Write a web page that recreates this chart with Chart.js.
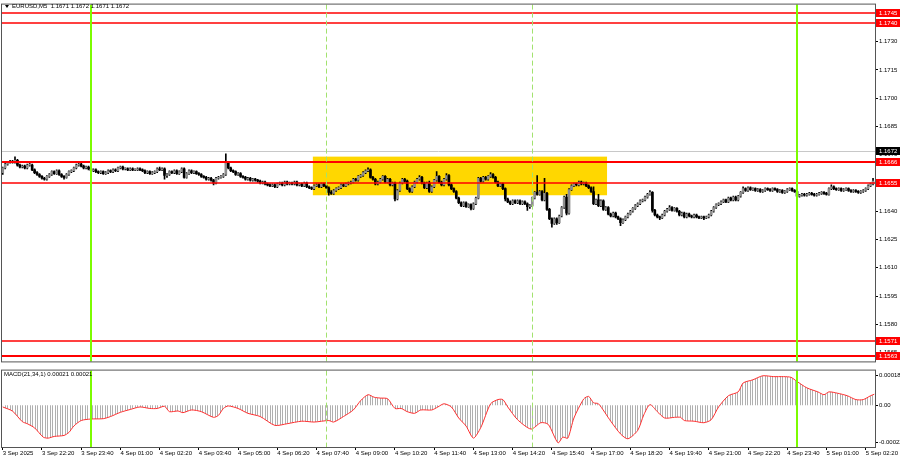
<!DOCTYPE html>
<html>
<head>
<meta charset="utf-8">
<script src="https://cdn.jsdelivr.net/npm/chart.js@4.4.1/dist/chart.umd.min.js"></script>
<style>
  html, body { margin: 0; padding: 0; background: #fff; }
  #wrap { position: relative; width: 900px; height: 460px; }
  canvas { position: absolute; left: 0; }
  #price { top: 0; }
  #macd { top: 366px; }
</style>
</head>
<body>
<div id="wrap">
  <canvas id="price" width="900" height="366"></canvas>
  <canvas id="macd" width="900" height="94"></canvas>
</div>
<script>
// EURUSD M5, one entry per 5 minute bar, 3 Sep 21:00 .. 5 Sep 02:35
var barOpen = [
1.16605,1.1663,1.1665,1.1666,1.16665,1.1666,1.1667,1.16645,1.16635,1.1664,
1.1663,1.16645,1.16645,1.1662,1.16605,1.16595,1.16585,1.16575,1.1657,1.16585,
1.16595,1.1661,1.166,1.16615,1.16595,1.16585,1.1658,1.16595,1.1661,1.16615,
1.1663,1.16645,1.1665,1.1664,1.1663,1.16635,1.16625,1.16615,1.1662,1.1661,
1.16605,1.1661,1.166,1.16605,1.16615,1.1661,1.1662,1.16615,1.1663,1.16635,
1.16625,1.16625,1.1662,1.16625,1.1662,1.1662,1.16625,1.1662,1.16615,1.16605,
1.1661,1.166,1.16605,1.1661,1.16625,1.1662,1.16625,1.1659,1.16595,1.1661,
1.16605,1.16615,1.166,1.1661,1.16625,1.1658,1.166,1.16615,1.16605,1.1661,
1.166,1.16595,1.16585,1.1658,1.1657,1.16575,1.16565,1.1655,1.16575,1.1658,
1.16585,1.16595,1.1666,1.1663,1.16615,1.1661,1.16595,1.166,1.16585,1.1658,
1.1657,1.16575,1.16565,1.1657,1.16565,1.1656,1.1655,1.16555,1.16545,1.1654,
1.16535,1.1654,1.1653,1.16545,1.1655,1.1654,1.16555,1.16545,1.1655,1.16545,
1.16555,1.1654,1.16545,1.16535,1.1655,1.1653,1.16525,1.1652,1.16535,1.1654,
1.1653,1.16545,1.16535,1.16525,1.165,1.16495,1.1651,1.1652,1.16525,1.1654,
1.16535,1.16545,1.1655,1.16555,1.1657,1.16565,1.16585,1.1659,1.16605,1.16615,
1.1662,1.1658,1.1657,1.16545,1.16555,1.1657,1.16585,1.16555,1.1657,1.1654,
1.1655,1.16465,1.1651,1.1655,1.1657,1.1656,1.1652,1.16505,1.1653,1.16555,
1.1657,1.1658,1.1655,1.16525,1.1655,1.16505,1.1653,1.16565,1.16585,1.16555,
1.1654,1.1657,1.1659,1.1654,1.1652,1.16505,1.1647,1.16445,1.1643,1.16445,
1.16425,1.16435,1.16415,1.1644,1.1647,1.16575,1.1656,1.1658,1.1657,1.16585,
1.16595,1.1658,1.16555,1.16535,1.16545,1.1652,1.16465,1.1645,1.1644,1.16455,
1.16445,1.16455,1.1644,1.1645,1.1644,1.16425,1.1643,1.1647,1.165,1.1649,
1.16505,1.1646,1.16495,1.1641,1.1636,1.16335,1.1636,1.1634,1.16375,1.1642,
1.16475,1.1639,1.16515,1.16535,1.16545,1.1654,1.16555,1.16545,1.1655,1.16535,
1.16525,1.16505,1.1644,1.1646,1.1643,1.16455,1.1641,1.1642,1.16385,1.16375,
1.1639,1.1637,1.1636,1.1634,1.16355,1.1637,1.16385,1.164,1.16415,1.1643,
1.1644,1.16455,1.1646,1.16475,1.1649,1.165,1.16405,1.1638,1.1637,1.16365,
1.1638,1.164,1.1641,1.1642,1.16405,1.16415,1.164,1.1638,1.1639,1.1637,
1.16385,1.16375,1.1637,1.1638,1.1637,1.16365,1.1637,1.16365,1.1637,1.1638,
1.164,1.1642,1.16435,1.1644,1.1645,1.1646,1.1645,1.1647,1.1646,1.16475,
1.1646,1.1648,1.165,1.1652,1.1651,1.16525,1.16515,1.1652,1.1651,1.16515,
1.16505,1.1651,1.1652,1.16515,1.1651,1.1652,1.16515,1.16505,1.1651,1.165,
1.16505,1.16515,1.1652,1.1651,1.16505,1.1648,1.16485,1.1649,1.16485,1.1649,
1.16495,1.1649,1.16485,1.1649,1.16495,1.165,1.16495,1.1649,1.1652,1.1653,
1.1652,1.16515,1.1652,1.1651,1.16515,1.1652,1.1651,1.16505,1.1651,1.16505,
1.165,1.16505,1.1651,1.1652,1.16535,1.16545
];
var barHigh = [
1.16635,1.16655,1.16665,1.1667,1.1667,1.16689,1.16675,1.1665,1.16645,1.16645,
1.1665,1.16655,1.1665,1.16625,1.1661,1.166,1.1659,1.1658,1.1659,1.166,
1.16615,1.16615,1.1662,1.1662,1.166,1.1659,1.166,1.16615,1.1662,1.16635,
1.1665,1.16655,1.16655,1.16645,1.1664,1.1664,1.1663,1.16625,1.16625,1.16615,
1.16615,1.16615,1.1661,1.1662,1.1662,1.16625,1.16625,1.16635,1.1664,1.1664,
1.1663,1.1663,1.1663,1.1663,1.16625,1.1663,1.1663,1.16625,1.1662,1.16615,
1.16615,1.1661,1.16615,1.1663,1.16635,1.1663,1.1663,1.166,1.16615,1.16615,
1.1662,1.1662,1.16615,1.1663,1.1663,1.16605,1.1662,1.1662,1.16615,1.16615,
1.16605,1.166,1.1659,1.16585,1.1658,1.1658,1.1657,1.1658,1.16585,1.1659,
1.166,1.16705,1.16665,1.16635,1.1662,1.16615,1.16605,1.16605,1.1659,1.16585,
1.1658,1.1658,1.16575,1.16575,1.1657,1.16565,1.1656,1.1656,1.1655,1.16545,
1.16545,1.16545,1.1655,1.16555,1.16555,1.1656,1.1656,1.16555,1.16555,1.1656,
1.1656,1.1655,1.1655,1.16555,1.16555,1.16535,1.1653,1.1654,1.16545,1.16545,
1.1655,1.1655,1.1654,1.1653,1.1651,1.16515,1.16525,1.1653,1.16545,1.16545,
1.1655,1.16555,1.1656,1.16575,1.16575,1.1659,1.16595,1.1661,1.1662,1.1663,
1.16625,1.16585,1.16575,1.1656,1.16575,1.1659,1.1659,1.16575,1.16575,1.16555,
1.16555,1.16515,1.16555,1.16575,1.16575,1.16565,1.16525,1.16535,1.1656,1.16575,
1.1659,1.16585,1.16555,1.16555,1.1656,1.16535,1.1657,1.1661,1.1659,1.1656,
1.16575,1.166,1.16595,1.16545,1.16525,1.1651,1.16475,1.1645,1.1645,1.1645,
1.1644,1.1644,1.16445,1.16475,1.1658,1.1658,1.16585,1.16585,1.1659,1.16605,
1.166,1.16585,1.1656,1.1655,1.1655,1.16525,1.1647,1.16455,1.1646,1.1646,
1.1646,1.1646,1.16455,1.16455,1.16445,1.16435,1.16475,1.16505,1.1659,1.1651,
1.1651,1.16575,1.165,1.16415,1.16365,1.16365,1.16365,1.1638,1.16425,1.1648,
1.1649,1.1652,1.1654,1.1655,1.1655,1.1656,1.1656,1.16555,1.16555,1.1654,
1.1653,1.1653,1.16465,1.1649,1.1646,1.1646,1.16425,1.16425,1.1639,1.16395,
1.16395,1.16375,1.16365,1.1636,1.16375,1.1639,1.16405,1.1642,1.16435,1.16445,
1.1646,1.16465,1.1648,1.16495,1.1651,1.16505,1.1641,1.16385,1.16375,1.16385,
1.16405,1.16415,1.1643,1.16425,1.1642,1.1642,1.16405,1.16395,1.16395,1.1639,
1.1639,1.1638,1.16385,1.16385,1.16375,1.16375,1.16375,1.16375,1.16385,1.16405,
1.16425,1.1644,1.16445,1.16455,1.16465,1.16465,1.16475,1.16475,1.1648,1.1648,
1.16485,1.16505,1.1653,1.16525,1.1653,1.1653,1.16525,1.16525,1.1652,1.1652,
1.16515,1.16525,1.16525,1.1652,1.16525,1.16525,1.1652,1.16515,1.16515,1.1651,
1.1652,1.16525,1.16525,1.16515,1.1651,1.1649,1.16495,1.16495,1.16495,1.165,
1.165,1.16495,1.16495,1.165,1.16505,1.16505,1.165,1.16525,1.1654,1.16535,
1.16525,1.16525,1.16525,1.1652,1.16525,1.16525,1.16515,1.16515,1.16515,1.1651,
1.1651,1.16515,1.16525,1.1654,1.1655,1.16575
];
var barLow = [
1.16595,1.16625,1.16645,1.16655,1.16655,1.16655,1.1664,1.1663,1.1663,1.16625,
1.16625,1.1664,1.16615,1.166,1.1659,1.1658,1.1657,1.16565,1.16565,1.1658,
1.1659,1.16595,1.16595,1.1659,1.1658,1.1657,1.16575,1.1659,1.16605,1.1661,
1.16625,1.1664,1.16635,1.16625,1.16625,1.1662,1.1661,1.1661,1.16605,1.166,
1.166,1.16595,1.16595,1.166,1.16605,1.16605,1.1661,1.1661,1.16625,1.1662,
1.1662,1.16615,1.16615,1.16615,1.16615,1.16615,1.16615,1.1661,1.166,1.166,
1.16595,1.16595,1.166,1.16605,1.16615,1.16615,1.1657,1.1658,1.1659,1.166,
1.166,1.16595,1.16595,1.16605,1.16575,1.16575,1.16595,1.166,1.166,1.16595,
1.1659,1.1658,1.16575,1.16565,1.16565,1.1656,1.1654,1.16545,1.1657,1.16575,
1.1658,1.1659,1.16625,1.1661,1.16605,1.1659,1.1659,1.1658,1.16575,1.16565,
1.16565,1.1656,1.1656,1.1656,1.16555,1.16545,1.16545,1.1654,1.16535,1.1653,
1.1653,1.16525,1.16525,1.1654,1.16535,1.16535,1.1654,1.1654,1.1654,1.1654,
1.16535,1.16535,1.1653,1.1653,1.16525,1.1652,1.16515,1.16515,1.1653,1.16525,
1.16525,1.1653,1.1652,1.16485,1.1649,1.1649,1.16505,1.16515,1.1652,1.1653,
1.1653,1.1654,1.16545,1.1655,1.1656,1.1656,1.1658,1.16585,1.166,1.1661,
1.16575,1.16565,1.1654,1.1654,1.1655,1.16565,1.1655,1.1655,1.16535,1.16535,
1.16455,1.1646,1.16505,1.16545,1.16555,1.16515,1.165,1.165,1.16525,1.1655,
1.16565,1.16545,1.1652,1.1652,1.165,1.165,1.16525,1.1656,1.1655,1.16535,
1.16535,1.16565,1.16535,1.16515,1.165,1.16465,1.1644,1.16425,1.16425,1.1642,
1.1642,1.16407,1.1641,1.16435,1.16465,1.16555,1.16555,1.16565,1.16565,1.1658,
1.16575,1.1655,1.1653,1.1653,1.16515,1.16455,1.16445,1.16435,1.16435,1.1644,
1.1644,1.16435,1.16435,1.16435,1.16405,1.16415,1.16425,1.16465,1.16485,1.16485,
1.16455,1.16455,1.16405,1.16355,1.16315,1.1633,1.1633,1.16335,1.1637,1.16415,
1.1638,1.16385,1.1651,1.1653,1.16535,1.16535,1.1654,1.1654,1.1653,1.1652,
1.165,1.16435,1.16435,1.16425,1.16425,1.16405,1.16405,1.1638,1.1637,1.1637,
1.16365,1.16355,1.16323,1.16335,1.1635,1.16365,1.1638,1.16395,1.1641,1.16425,
1.16435,1.1645,1.16455,1.1647,1.16485,1.16395,1.16375,1.16365,1.16355,1.1636,
1.16375,1.16395,1.16405,1.164,1.164,1.16395,1.16375,1.16375,1.16365,1.16365,
1.1637,1.16365,1.16365,1.16365,1.1636,1.1636,1.16355,1.1636,1.16365,1.16375,
1.16395,1.16415,1.1643,1.16435,1.16445,1.16445,1.16445,1.16455,1.16455,1.16455,
1.16455,1.16475,1.16495,1.16505,1.16505,1.1651,1.1651,1.16505,1.16505,1.165,
1.165,1.16505,1.1651,1.16505,1.16505,1.1651,1.165,1.165,1.16495,1.16495,
1.165,1.1651,1.16505,1.165,1.1647,1.16475,1.1648,1.1648,1.1648,1.16485,
1.16485,1.1648,1.1648,1.16485,1.1649,1.1649,1.16485,1.16485,1.16515,1.16515,
1.1651,1.1651,1.16505,1.16505,1.1651,1.16505,1.165,1.165,1.165,1.16495,
1.16495,1.165,1.16505,1.16515,1.1653,1.1654
];
var barClose = [
1.1663,1.1665,1.1666,1.16665,1.1666,1.1667,1.16645,1.16635,1.1664,1.1663,
1.16645,1.16645,1.1662,1.16605,1.16595,1.16585,1.16575,1.1657,1.16585,1.16595,
1.1661,1.166,1.16615,1.16595,1.16585,1.1658,1.16595,1.1661,1.16615,1.1663,
1.16645,1.1665,1.1664,1.1663,1.16635,1.16625,1.16615,1.1662,1.1661,1.16605,
1.1661,1.166,1.16605,1.16615,1.1661,1.1662,1.16615,1.1663,1.16635,1.16625,
1.16625,1.1662,1.16625,1.1662,1.1662,1.16625,1.1662,1.16615,1.16605,1.1661,
1.166,1.16605,1.1661,1.16625,1.1662,1.16625,1.1659,1.16595,1.1661,1.16605,
1.16615,1.166,1.1661,1.16625,1.1658,1.166,1.16615,1.16605,1.1661,1.166,
1.16595,1.16585,1.1658,1.1657,1.16575,1.16565,1.1655,1.16575,1.1658,1.16585,
1.16595,1.1666,1.1663,1.16615,1.1661,1.16595,1.166,1.16585,1.1658,1.1657,
1.16575,1.16565,1.1657,1.16565,1.1656,1.1655,1.16555,1.16545,1.1654,1.16535,
1.1654,1.1653,1.16545,1.1655,1.1654,1.16555,1.16545,1.1655,1.16545,1.16555,
1.1654,1.16545,1.16535,1.1655,1.1653,1.16525,1.1652,1.16535,1.1654,1.1653,
1.16545,1.16535,1.16525,1.165,1.16495,1.1651,1.1652,1.16525,1.1654,1.16535,
1.16545,1.1655,1.16555,1.1657,1.16565,1.16585,1.1659,1.16605,1.16615,1.1662,
1.1658,1.1657,1.16545,1.16555,1.1657,1.16585,1.16555,1.1657,1.1654,1.1655,
1.16465,1.1651,1.1655,1.1657,1.1656,1.1652,1.16505,1.1653,1.16555,1.1657,
1.1658,1.1655,1.16525,1.1655,1.16505,1.1653,1.16565,1.16585,1.16555,1.1654,
1.1657,1.1659,1.1654,1.1652,1.16505,1.1647,1.16445,1.1643,1.16445,1.16425,
1.16435,1.16415,1.1644,1.1647,1.16575,1.1656,1.1658,1.1657,1.16585,1.16595,
1.1658,1.16555,1.16535,1.16545,1.1652,1.16465,1.1645,1.1644,1.16455,1.16445,
1.16455,1.1644,1.1645,1.1644,1.16425,1.1643,1.1647,1.165,1.1649,1.16505,
1.1646,1.16495,1.1641,1.1636,1.16335,1.1636,1.1634,1.16375,1.1642,1.16475,
1.1639,1.16515,1.16535,1.16545,1.1654,1.16555,1.16545,1.1655,1.16535,1.16525,
1.16505,1.1644,1.1646,1.1643,1.16455,1.1641,1.1642,1.16385,1.16375,1.1639,
1.1637,1.1636,1.1634,1.16355,1.1637,1.16385,1.164,1.16415,1.1643,1.1644,
1.16455,1.1646,1.16475,1.1649,1.165,1.16405,1.1638,1.1637,1.16365,1.1638,
1.164,1.1641,1.1642,1.16405,1.16415,1.164,1.1638,1.1639,1.1637,1.16385,
1.16375,1.1637,1.1638,1.1637,1.16365,1.1637,1.16365,1.1637,1.1638,1.164,
1.1642,1.16435,1.1644,1.1645,1.1646,1.1645,1.1647,1.1646,1.16475,1.1646,
1.1648,1.165,1.1652,1.1651,1.16525,1.16515,1.1652,1.1651,1.16515,1.16505,
1.1651,1.1652,1.16515,1.1651,1.1652,1.16515,1.16505,1.1651,1.165,1.16505,
1.16515,1.1652,1.1651,1.16505,1.1648,1.16485,1.1649,1.16485,1.1649,1.16495,
1.1649,1.16485,1.1649,1.16495,1.165,1.16495,1.1649,1.1652,1.1653,1.1652,
1.16515,1.1652,1.1651,1.16515,1.1652,1.1651,1.16505,1.1651,1.16505,1.165,
1.16505,1.1651,1.1652,1.16535,1.16545,1.1656
];

var macdBar = [0,4,8,10,13,16.5,18.5,21,25,27,29,32,36,41,44,48,52,56,60,63,
  66,68,71.5,73.5,77,81,86,88,90,92,96,100,105,111,116,122,127,133,135,139,
  143,146,149,151.5,154,157,160,162.5,165,168,170.5,175,177.5,180,183,186,189,192,195,199,
  202,204,206,210,215.5,219.5,222.5,226.5,228.5,230.5,233,237,239,241,243,248,252,255,259,261.5,
  264,267,270,274,276.5,278,282,286,289,292,296,300,302,306,310,314.5,318.5,321.5,324,328,
  332.5,335,337,340.5,344.5,348,351,354,355.5];
var macdValue = [-0.00001,-0.000035,-0.000098,-0.00011,-0.000135,-0.00019,-0.000196,-0.000186,-0.00018,-0.000162,
  -0.000124,-0.000091,-0.000082,-0.00008,-0.000067,-0.000042,-0.000025,-0.00001,-0.000019,-0.000019,
  -0.000006,-0.000038,-0.000034,-0.000044,-0.000028,-0.000038,-0.000072,-0.00006,-0.000019,-0.000004,
  -0.000019,-0.000048,-0.000067,-0.00012,-0.00011,-0.000095,-0.0001,-0.000091,-0.0001,-0.000067,
  -0.000028,0.000028,0.000063,0.000048,0.000043,0.000039,-0.000019,-0.000019,-0.000038,-0.000048,
  -0.000028,-0.000028,-0.00001,0.000009,-0.00001,-0.000076,-0.000124,-0.000196,-0.000133,0.000009,
  0.000034,0.000034,-0.00001,-0.000086,-0.000142,-0.000104,-0.000114,-0.000224,-0.00019,-0.000196,
  -0.000076,0.000038,0.000053,0.000015,0.000009,-0.000095,-0.000171,-0.0002,-0.00015,-0.000057,
  0.000004,-0.000038,-0.000076,-0.000072,-0.000072,-0.000091,-0.000095,-0.000104,-0.000086,-0.00001,
  0.000057,0.00008,0.000133,0.000152,0.000176,0.000171,0.000171,0.000167,0.000142,0.000104,
  0.00008,0.000063,0.00008,0.000072,0.000057,0.000034,0.000034,0.000057,0.000066];

var priceTicks = [1.1565,1.1580,1.1595,1.1610,1.1625,1.1640,1.1655,1.1670,1.1685,1.1700,1.1715,1.1730,1.1745];
var macdTicks = [-0.00022, 0, 0.00018];
var timeTickBars = [0,16,32,48,64,80,96,112,128,144,160,176,192,208,224,240,256,272,288,304,320,336,352];
var timeTickLabels = ['3 Sep 2025','3 Sep 22:20','3 Sep 23:40','4 Sep 01:00','4 Sep 02:20','4 Sep 03:40',
  '4 Sep 05:00','4 Sep 06:20','4 Sep 07:40','4 Sep 09:00','4 Sep 10:20','4 Sep 11:40','4 Sep 13:00',
  '4 Sep 14:20','4 Sep 15:40','4 Sep 17:00','4 Sep 18:20','4 Sep 19:40','4 Sep 21:00','4 Sep 22:20',
  '4 Sep 23:40','5 Sep 01:00','5 Sep 02:20'];

// objects on the chart
var levelPrices = [1.1745, 1.1740, 1.1666, 1.1655, 1.1571, 1.1563];
var bidPrice = 1.1672;
var dayLines = [36, 324];        // 4 Sep 00:00, 5 Sep 00:00
var sessionLines = [132, 216];   // 4 Sep 08:00, 4 Sep 15:00
var boxBars = [126.5, 246.5];    // 07:35 .. 17:35
var boxPrices = [1.16485, 1.1669];

var headerText = 'EURUSD,M5  1.1671 1.1672 1.1671 1.1672';
var macdText = 'MACD(21,34,1) 0.00021 0.00021';

var FONT = '"Liberation Sans", Arial, sans-serif';
var tickFont = { family: FONT, size: 6 };

var bars = barClose.map(function (c, i) { return i; });
var wickData = bars.map(function (i) { return { x: i, y: [barLow[i], barHigh[i]] }; });
var bodyData = bars.map(function (i) { return { x: i, y: [barOpen[i], barClose[i]] }; });
var bodyColors = bars.map(function (i) { return barClose[i] >= barOpen[i] ? '#8e8e8e' : '#000000'; });

function drawVLines(chart) {
  var ctx = chart.ctx, a = chart.chartArea, xs = chart.scales.x;
  ctx.save();
  ctx.strokeStyle = '#7cfc00';
  ctx.lineWidth = 2;
  dayLines.forEach(function (b) {
    var px = Math.round(xs.getPixelForValue(b));
    ctx.beginPath(); ctx.moveTo(px, a.top); ctx.lineTo(px, a.bottom); ctx.stroke();
  });
  ctx.strokeStyle = '#a2e26e';
  ctx.lineWidth = 1;
  ctx.setLineDash([5, 3]);
  sessionLines.forEach(function (b) {
    var px = Math.round(xs.getPixelForValue(b)) + 0.5;
    ctx.beginPath(); ctx.moveTo(px, a.top); ctx.lineTo(px, a.bottom); ctx.stroke();
  });
  ctx.restore();
}

function drawFrame(chart) {
  var ctx = chart.ctx, a = chart.chartArea;
  ctx.save();
  ctx.strokeStyle = '#555';
  ctx.lineWidth = 1;
  ctx.strokeRect(a.left - 0.5, a.top - 0.5, a.right - a.left + 1, a.bottom - a.top + 1);
  ctx.restore();
}

function priceTag(chart, value, text, fill) {
  var ctx = chart.ctx, a = chart.chartArea;
  var py = Math.round(chart.scales.y.getPixelForValue(value));
  ctx.fillStyle = fill;
  ctx.fillRect(a.right + 1, py - 4, 900 - a.right - 1, 8);
  ctx.fillStyle = '#fff';
  ctx.font = '6px ' + FONT;
  ctx.textAlign = 'left';
  ctx.textBaseline = 'middle';
  ctx.fillText(text, a.right + 4, py + 0.5);
}

var priceOverlay = {
  id: 'priceOverlay',
  beforeDatasetsDraw: function (chart) {
    var ctx = chart.ctx, xs = chart.scales.x, ys = chart.scales.y;
    var x0 = xs.getPixelForValue(boxBars[0]), x1 = xs.getPixelForValue(boxBars[1]);
    var y0 = ys.getPixelForValue(boxPrices[1]), y1 = ys.getPixelForValue(boxPrices[0]);
    ctx.save();
    ctx.fillStyle = '#ffd700';
    ctx.fillRect(x0, y0, x1 - x0, y1 - y0);
    ctx.restore();
  },
  afterDatasetsDraw: function (chart) {
    var ctx = chart.ctx, a = chart.chartArea, ys = chart.scales.y;
    ctx.save();
    ctx.beginPath(); ctx.rect(a.left, a.top, a.right - a.left, a.bottom - a.top); ctx.clip();
    var by = Math.round(ys.getPixelForValue(bidPrice)) + 0.5;
    ctx.strokeStyle = '#c8c8c8'; ctx.lineWidth = 1;
    ctx.beginPath(); ctx.moveTo(a.left, by); ctx.lineTo(a.right, by); ctx.stroke();
    // thin levels are spread over two pixel rows so they keep their red
    var widths = [1.4, 1.4, 2, 1.4, 1.4, 2];
    levelPrices.forEach(function (p, k) {
      var py = Math.round(ys.getPixelForValue(p));
      ctx.strokeStyle = '#ff0000';
      ctx.lineWidth = widths[k];
      ctx.beginPath(); ctx.moveTo(a.left, py); ctx.lineTo(a.right, py); ctx.stroke();
    });
    ctx.restore();
    drawVLines(chart);
    drawFrame(chart);
    // header
    ctx.save();
    ctx.fillStyle = '#000';
    ctx.beginPath(); ctx.moveTo(5, 5); ctx.lineTo(9, 5); ctx.lineTo(7, 8); ctx.closePath(); ctx.fill();
    ctx.font = '6px ' + FONT;
    ctx.textBaseline = 'middle';
    ctx.fillText(headerText, 12, 6.5);
    ctx.restore();
  },
  afterDraw: function (chart) {
    var ctx = chart.ctx;
    ctx.save();
    levelPrices.forEach(function (p) { priceTag(chart, p, p.toFixed(4), '#ff0000'); });
    priceTag(chart, bidPrice, bidPrice.toFixed(4), '#000000');
    ctx.restore();
  }
};

new Chart(document.getElementById('price'), {
  type: 'bar',
  data: {
    datasets: [{
      data: wickData,
      backgroundColor: '#000000',
      barThickness: 1,
      grouped: false,
      order: 2
    }, {
      data: bodyData,
      backgroundColor: bodyColors,
      barThickness: 2,
      minBarLength: 1,
      grouped: false,
      order: 1
    }]
  },
  options: {
    responsive: false,
    animation: false,
    devicePixelRatio: 1,
    events: [],
    layout: { padding: { left: 2, top: 2, right: 0, bottom: 1 } },
    plugins: { legend: { display: false }, tooltip: { enabled: false } },
    scales: {
      x: { type: 'linear', min: -0.3, max: 355.8, offset: false, display: false },
      y: {
        position: 'right',
        min: 1.15603,
        max: 1.17497,
        afterBuildTicks: function (s) { s.ticks = priceTicks.map(function (v) { return { value: v }; }); },
        afterFit: function (s) { s.width = 25; },
        ticks: { font: tickFont, color: '#000', padding: 1, autoSkip: false,
          callback: function (v) { return Number(v).toFixed(4); } },
        grid: { drawOnChartArea: false, drawTicks: true, tickLength: 3, color: '#000' },
        border: { display: true, color: '#333' }
      }
    }
  },
  plugins: [priceOverlay]
});

// MACD pane
var macdCanvas = document.getElementById('macd');
var tile = document.createElement('canvas');
tile.width = 5; tile.height = 1;
var tg = tile.getContext('2d');
tg.fillStyle = '#b0b0b0';
tg.fillRect(0, 0, 1, 1);
tg.fillRect(2, 0, 1, 1);
var histPattern = macdCanvas.getContext('2d').createPattern(tile, 'repeat');

var macdOverlay = {
  id: 'macdOverlay',
  afterDatasetsDraw: function (chart) {
    drawVLines(chart);
    drawFrame(chart);
    var ctx = chart.ctx;
    ctx.save();
    ctx.fillStyle = '#000';
    ctx.font = '6px ' + FONT;
    ctx.textBaseline = 'middle';
    ctx.fillText(macdText, 4, 8);
    ctx.restore();
  }
};

new Chart(macdCanvas, {
  type: 'line',
  data: {
    datasets: [{
      data: macdBar.map(function (b, k) { return { x: b, y: macdValue[k] }; }),
      borderColor: '#ff3030',
      borderWidth: 1,
      backgroundColor: histPattern,
      fill: 'origin',
      pointRadius: 0,
      tension: 0.25
    }]
  },
  options: {
    responsive: false,
    animation: false,
    devicePixelRatio: 1,
    events: [],
    layout: { padding: { left: 2, top: 1, right: 0, bottom: 0 } },
    plugins: { legend: { display: false }, tooltip: { enabled: false } },
    scales: {
      x: {
        type: 'linear',
        min: -0.3,
        max: 355.8,
        offset: false,
        afterBuildTicks: function (s) { s.ticks = timeTickBars.map(function (v) { return { value: v }; }); },
        afterFit: function (s) { s.height = 13; },
        ticks: { font: tickFont, color: '#000', padding: 0, autoSkip: false, maxRotation: 0, minRotation: 0,
          align: 'start',
          callback: function (v) { return timeTickLabels[timeTickBars.indexOf(v)]; } },
        grid: { drawOnChartArea: false, drawTicks: true, tickLength: 3, color: '#000' },
        border: { display: false }
      },
      y: {
        position: 'right',
        min: -0.000249,
        max: 0.000207,
        afterBuildTicks: function (s) { s.ticks = macdTicks.map(function (v) { return { value: v }; }); },
        afterFit: function (s) { s.width = 25; },
        ticks: { font: tickFont, color: '#000', padding: 1, autoSkip: false,
          callback: function (v) { return v === 0 ? '0.00' : Number(v).toFixed(5); } },
        grid: { drawOnChartArea: false, drawTicks: true, tickLength: 3, color: '#000' },
        border: { display: true, color: '#333' }
      }
    }
  },
  plugins: [macdOverlay]
});
</script>
</body>
</html>
